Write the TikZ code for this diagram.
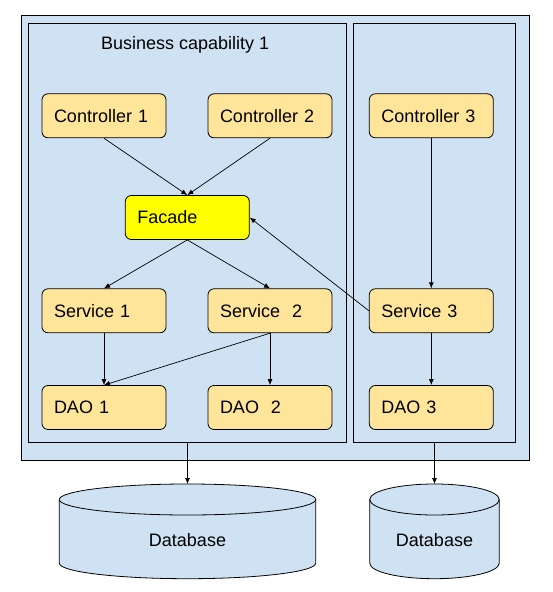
\documentclass[tikz,border=0pt]{standalone}
\usepackage{fontspec}
\setmainfont{Liberation Sans}
\usetikzlibrary{arrows.meta}
\definecolor{capblue}{HTML}{CFE2F3}
\definecolor{boxyellow}{HTML}{FFE599}
\definecolor{facadeyellow}{HTML}{FFFF00}
\begin{document}
\begin{tikzpicture}[x=1pt,y=1pt,
  lbl/.style={font=\fontsize{18}{21}\selectfont},
  compbox/.style={draw=black, line width=0.8pt, rounded corners=6pt, fill=boxyellow,
    minimum height=44pt, text width=100pt, inner xsep=12pt, inner ysep=0pt,
    align=left, lbl},
  container/.style={draw=black, line width=1pt, fill=capblue, inner sep=0pt},
  arr/.style={-{Latex[length=6pt,width=5pt]}, line width=0.7pt},
  dbshape/.style={draw=black, line width=0.8pt, fill=capblue}
]
\useasboundingbox (0,0) rectangle (552,-592);

% containers
\node[container, minimum width=508pt, minimum height=445.4pt] (outer) at (275.5,-238) {};
\node[container, minimum width=318pt, minimum height=418.7pt] (cap1) at (187.5,-232.65) {};
\node[container, minimum width=162.5pt, minimum height=418.7pt] (cap2) at (434.5,-232.65) {};
\node[lbl, anchor=west, inner sep=0pt] (title) at (101,-44.5) {Business capability 1};

% components
\node[compbox] (c1) at (104,-115.8) {Controller 1};
\node[compbox] (c2) at (270,-115.8) {Controller 2};
\node[compbox] (c3) at (431.3,-115.8) {Controller 3};
\node[compbox, fill=facadeyellow] (fac) at (187.3,-217.5) {Facade};
\node[compbox] (s1) at (104,-310.8) {Service 1};
\node[compbox] (s2) at (270,-310.8) {Service\ \ 2};
\node[compbox] (s3) at (431.3,-310.8) {Service 3};
\node[compbox] (d1) at (104,-407.5) {DAO 1};
\node[compbox] (d2) at (270,-407.5) {DAO\ \ 2};
\node[compbox] (d3) at (431.3,-407.5) {DAO 3};

% databases
\fill[capblue] (59.3,-499.5) -- (59.3,-563.2) arc[start angle=180,end angle=360,x radius=128.2,y radius=15.5]
  -- (315.7,-499.5) arc[start angle=0,end angle=180,x radius=128.2,y radius=15.5] -- cycle;
\draw[line width=0.8pt] (59.3,-499.5) -- (59.3,-563.2) arc[start angle=180,end angle=360,x radius=128.2,y radius=15.5]
  -- (315.7,-499.5) arc[start angle=0,end angle=180,x radius=128.2,y radius=15.5];
\draw[line width=0.8pt] (59.3,-499.5) arc[start angle=180,end angle=360,x radius=128.2,y radius=15.5];
\node[lbl] (db1) at (187.5,-540.5) {Database};
\coordinate (db1top) at (187.5,-484);

\fill[capblue] (369.8,-499.5) -- (369.8,-563.2) arc[start angle=180,end angle=360,x radius=64.7,y radius=15.5]
  -- (499.2,-499.5) arc[start angle=0,end angle=180,x radius=64.7,y radius=15.5] -- cycle;
\draw[line width=0.8pt] (369.8,-499.5) -- (369.8,-563.2) arc[start angle=180,end angle=360,x radius=64.7,y radius=15.5]
  -- (499.2,-499.5) arc[start angle=0,end angle=180,x radius=64.7,y radius=15.5];
\draw[line width=0.8pt] (369.8,-499.5) arc[start angle=180,end angle=360,x radius=64.7,y radius=15.5];
\node[lbl] (db2) at (434.5,-540.5) {Database};
\coordinate (db2top) at (434.5,-484);

% connectors
\draw[arr] (c1.south) -- (fac.north);
\draw[arr] (c2.south) -- (fac.north);
\draw[arr] (fac.south) -- (s1.north);
\draw[arr] (fac.south) -- (s2.north);
\draw[arr] (s3.west) -- (fac.east);
\draw[arr] (c3.south) -- (s3.north);
\draw[arr] (s3.south) -- (d3.north);
\draw[arr] (s1.south) -- (d1.north);
\draw[arr] (s2.south) -- (d2.north);
\draw[arr] (s2.south) -- (d1.north);
\draw[arr] (cap1.south) -- (db1top);
\draw[arr] (cap2.south) -- (db2top);
\end{tikzpicture}
\end{document}
